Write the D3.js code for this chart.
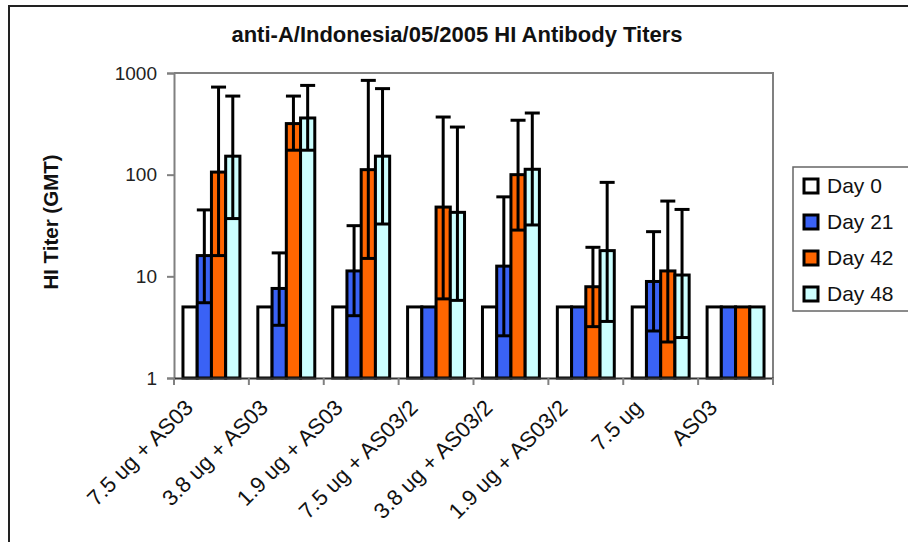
<!DOCTYPE html>
<html>
<head>
<meta charset="utf-8">
<script src="https://cdn.jsdelivr.net/npm/d3@7/dist/d3.min.js"></script>
<style>
  html, body { margin: 0; padding: 0; background: #fff; }
  svg { display: block; font-family: "Liberation Sans", Arial, sans-serif; }
</style>
</head>
<body>
<svg id="chart" width="908" height="542"></svg>
<script>
const categories = ["7.5 ug + AS03", "3.8 ug + AS03", "1.9 ug + AS03", "7.5 ug + AS03/2",
                    "3.8 ug + AS03/2", "1.9 ug + AS03/2", "7.5 ug", "AS03"];
const seriesNames = ["Day 0", "Day 21", "Day 42", "Day 48"];
const seriesColors = ["#ffffff", "#3a62f5", "#ff6600", "#ccffff"];

// GMT values per series (one entry per category)
const day0  = [5, 5, 5, 5, 5, 5, 5, 5];
const day21 = [16, 7.6, 11.3, 5, 12.6, 5, 8.9, 5];
const day42 = [106, 318, 112, 48, 100, 7.9, 11.3, 5];
const day48 = [152, 361, 152, 42.6, 113, 17.9, 10.3, 5];

// Error bar lower / upper bounds (null = no error bar)
const day0Low  = [null, null, null, null, null, null, null, null];
const day0High = [null, null, null, null, null, null, null, null];
const day21Low  = [5.5, 3.3, 4.1, null, 2.6, null, 2.9, null];
const day21High = [45, 17, 31.5, null, 60.5, null, 27.5, null];
const day42Low  = [16, 174, 15, 6, 28.5, 3.2, 2.26, null];
const day42High = [727, 593, 846, 369, 343, 19.3, 55, null];
const day48Low  = [37, 174, 32.7, 5.8, 32, 3.6, 2.5, null];
const day48High = [593, 755, 702, 294, 404, 84, 45.5, null];

const yTicks = [1, 10, 100, 1000];
const title = "anti-A/Indonesia/05/2005 HI Antibody Titers";
const yTitle = "HI Titer (GMT)";

const seriesValues = [day0, day21, day42, day48];
const seriesLow = [day0Low, day21Low, day42Low, day48Low];
const seriesHigh = [day0High, day21High, day42High, day48High];

const svg = d3.select("#chart");
const plot = { left: 174, right: 773, top: 73, bottom: 378 };

// outer frame
svg.append("path")
  .attr("d", "M9,545 L9,6 L912,6")
  .attr("fill", "none").attr("stroke", "#222").attr("stroke-width", 2);

const x = d3.scaleBand().domain(categories).range([plot.left, plot.right]).paddingInner(0).paddingOuter(0);
const xs = d3.scaleBand().domain(seriesNames).range([0, x.bandwidth()]).paddingOuter(0.63).paddingInner(0);
const y = d3.scaleLog().domain([1, 1000]).range([plot.bottom, plot.top]);

// plot area border (top & right)
svg.append("path")
  .attr("d", `M${plot.left},${plot.top} L${plot.right},${plot.top} L${plot.right},${plot.bottom}`)
  .attr("fill", "none").attr("stroke", "#808080").attr("stroke-width", 2);

// bars
const data = [];
categories.forEach((c, i) => {
  seriesNames.forEach((s, j) => {
    data.push({ c, s, j, v: seriesValues[j][i], lo: seriesLow[j][i], hi: seriesHigh[j][i] });
  });
});

svg.append("g").selectAll("rect").data(data).join("rect")
  .attr("x", d => x(d.c) + xs(d.s))
  .attr("width", xs.bandwidth())
  .attr("y", d => y(d.v))
  .attr("height", d => y(1) - y(d.v))
  .attr("fill", d => seriesColors[d.j])
  .attr("stroke", "#000")
  .attr("stroke-width", 3);

// error bars
const eb = svg.append("g").attr("stroke", "#000").attr("stroke-width", 3);
const capW = 15;
data.filter(d => d.lo != null).forEach(d => {
  const cx = x(d.c) + xs(d.s) + xs.bandwidth() / 2;
  eb.append("line").attr("x1", cx).attr("x2", cx).attr("y1", y(d.lo)).attr("y2", y(d.hi));
  eb.append("line").attr("x1", cx - capW / 2).attr("x2", cx + capW / 2).attr("y1", y(d.hi)).attr("y2", y(d.hi));
  eb.append("line").attr("x1", cx - capW / 2).attr("x2", cx + capW / 2).attr("y1", y(d.lo)).attr("y2", y(d.lo));
});

// y axis
const yAxis = d3.axisLeft(y).tickValues(yTicks).tickFormat(d3.format("d")).tickSize(7).tickPadding(10);
const gy = svg.append("g").attr("transform", `translate(${plot.left},0)`).call(yAxis);
gy.select(".domain").attr("stroke", "#808080").attr("stroke-width", 2);
gy.selectAll(".tick line").attr("stroke", "#808080").attr("stroke-width", 2);
gy.selectAll(".tick text").attr("font-size", 19).attr("fill", "#222")
  .attr("font-family", "Liberation Sans, Arial, sans-serif");

// x axis
const xAxis = d3.axisBottom(x).tickSize(0).tickFormat("");
const gx = svg.append("g").attr("transform", `translate(0,${plot.bottom})`).call(xAxis);
gx.select(".domain").attr("stroke", "#333").attr("stroke-width", 2);
// category boundary ticks
const bounds = categories.map(c => x(c)).concat([plot.right]);
svg.append("g").selectAll("line").data(bounds).join("line")
  .attr("x1", d => d).attr("x2", d => d)
  .attr("y1", plot.bottom).attr("y2", plot.bottom + 7)
  .attr("stroke", "#808080").attr("stroke-width", 2);

// x labels rotated
svg.append("g").selectAll("text").data(categories).join("text")
  .attr("transform", c => `translate(${x(c) + x.bandwidth() / 2 - 17},409) rotate(-45)`)
  .attr("text-anchor", "end")
  .attr("font-size", 22)
  .attr("fill", "#111")
  .text(c => c);

// title
svg.append("text")
  .attr("x", 457).attr("y", 42)
  .attr("text-anchor", "middle")
  .attr("font-size", 22).attr("font-weight", "bold").attr("fill", "#111")
  .text(title);

// y title
svg.append("text")
  .attr("transform", "translate(58,222) rotate(-90)")
  .attr("text-anchor", "middle")
  .attr("font-size", 20.5).attr("font-weight", "bold").attr("fill", "#111")
  .text(yTitle);

// legend
const lg = svg.append("g");
lg.append("rect").attr("x", 793).attr("y", 167).attr("width", 140).attr("height", 144)
  .attr("fill", "#fff").attr("stroke", "#666").attr("stroke-width", 1.5);
seriesNames.forEach((s, j) => {
  const cy = 185 + j * 36;
  lg.append("rect").attr("x", 804).attr("y", cy - 6).attr("width", 14).attr("height", 14)
    .attr("fill", seriesColors[j]).attr("stroke", "#000").attr("stroke-width", 3);
  lg.append("text").attr("x", 827).attr("y", cy + 7.5)
    .attr("font-size", 21).attr("fill", "#111").text(s);
});
</script>
</body>
</html>
